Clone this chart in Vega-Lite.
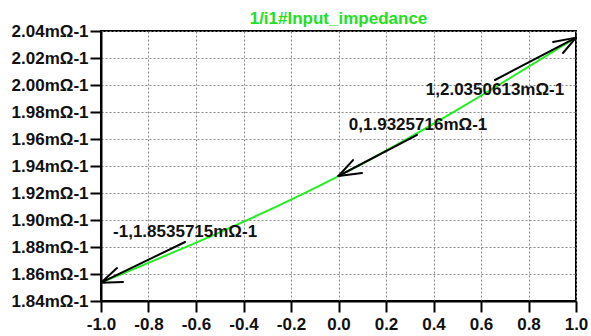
{
  "$schema": "https://vega.github.io/schema/vega-lite/v6.json",
  "width": 475,
  "height": 270,
  "autosize": "none",
  "padding": {"left": 101, "top": 31, "right": 15, "bottom": 35},
  "background": "white",
  "title": {"text": "1/i1#Input_impedance", "color": "#22e022", "fontSize": 17, "fontWeight": "bold", "font": "Liberation Sans", "anchor": "middle", "offset": -6},
  "config": {
    "view": {"stroke": "black", "strokeWidth": 2},
    "axis": {"labelFont": "Liberation Sans", "labelFontSize": 17, "labelFontWeight": "bold", "labelColor": "#111", "labelOverlap": false, "domainColor": "black", "domainWidth": 2, "tickColor": "black", "tickWidth": 2, "tickSize": 11, "gridColor": "#888", "gridDash": [2, 2], "gridWidth": 1, "title": null}
  },
  "datasets": {
    "series": [
      {"x": -1, "y": 1.8535715},
      {"x": 0, "y": 1.9325716},
      {"x": 1, "y": 2.0350613}
    ],
    "arrows": [
      {"x": 0.659, "y": 2.0037, "x2": 1, "y2": 2.0351},
      {"x": 0.9032, "y": 2.0319, "x2": 1, "y2": 2.0351},
      {"x": 0.9453, "y": 2.0237, "x2": 1, "y2": 2.0351},
      {"x": 0.331, "y": 1.963, "x2": 0, "y2": 1.9326},
      {"x": 0.0611, "y": 1.9444, "x2": 0, "y2": 1.9326},
      {"x": 0.0989, "y": 1.9348, "x2": 0, "y2": 1.9326},
      {"x": -0.646, "y": 1.8837, "x2": -1, "y2": 1.8536},
      {"x": -0.9326, "y": 1.8644, "x2": -1, "y2": 1.8536},
      {"x": -0.9074, "y": 1.854, "x2": -1, "y2": 1.8536}
    ],
    "labels": [
      {"x": 0.659, "y": 1.9963, "label": "1,2.0350613mΩ-1"},
      {"x": 0.335, "y": 1.9704, "label": "0,1.9325716mΩ-1"},
      {"x": -0.646, "y": 1.891, "label": "-1,1.8535715mΩ-1"}
    ]
  },
  "encoding": {
    "x": {"field": "x", "type": "quantitative", "scale": {"domain": [-1, 1], "nice": false, "zero": false},
      "axis": {"values": [-1, -0.8, -0.6, -0.4, -0.2, 0, 0.2, 0.4, 0.6, 0.8, 1], "labelExpr": "replace(format(datum.value, '.1f'), '−', '-')", "labelPadding": 4, "labelFlush": false, "labelOverlap": false}},
    "y": {"field": "y", "type": "quantitative", "scale": {"domain": [1.84, 2.04], "nice": false, "zero": false},
      "axis": {"values": [1.84, 1.86, 1.88, 1.9, 1.92, 1.94, 1.96, 1.98, 2.0, 2.02, 2.04], "labelExpr": "format(datum.value, '.2f') + 'mΩ-1'", "labelPadding": 2, "labelFlush": false, "labelOverlap": false, "labelSeparation": 0, "labelBound": false}}
  },
  "layer": [
    {
      "data": {"name": "series"},
      "mark": {"type": "line", "color": "#22ee22", "strokeWidth": 2, "interpolate": "natural", "clip": true}
    },
    {
      "data": {"name": "arrows"},
      "mark": {"type": "rule", "color": "black", "strokeWidth": 2, "strokeCap": "round"},
      "encoding": {
        "x2": {"field": "x2"},
        "y2": {"field": "y2"}
      }
    },
    {
      "data": {"name": "labels"},
      "mark": {"type": "text", "font": "Liberation Sans", "fontSize": 17, "fontWeight": "bold", "color": "#111", "align": "center", "baseline": "middle"},
      "encoding": {
        "text": {"field": "label"}
      }
    }
  ]
}
